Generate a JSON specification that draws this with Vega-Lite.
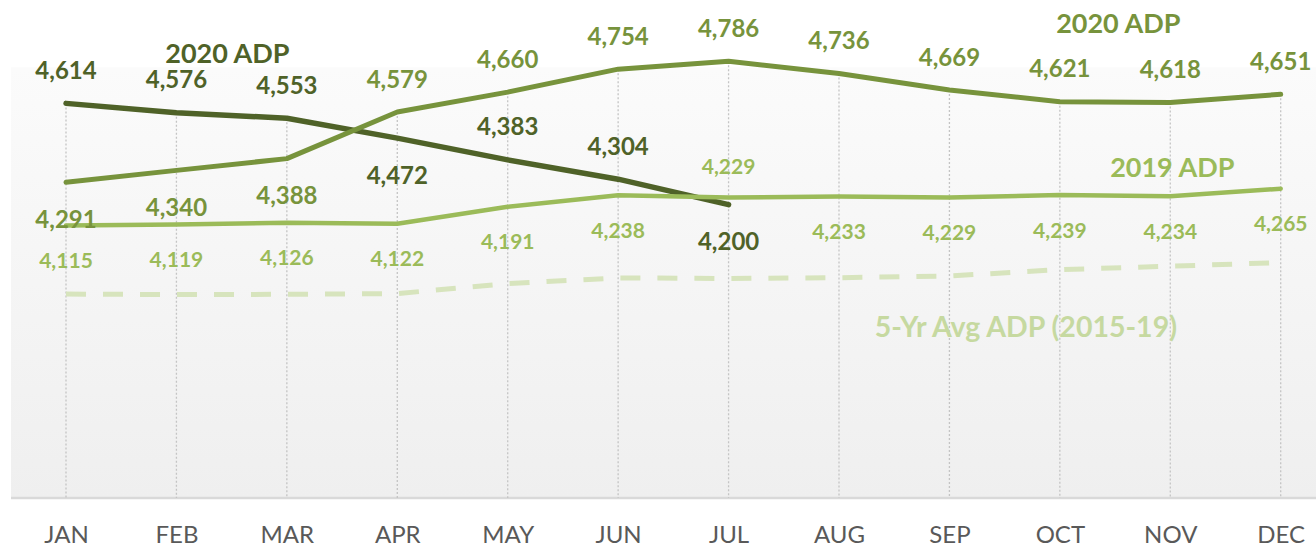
{
  "$schema": "https://vega.github.io/schema/vega-lite/v6.json",
  "width": 1305,
  "height": 489,
  "autosize": {"type": "none"},
  "padding": {"left": 11, "top": 9, "right": 0, "bottom": 50},
  "background": "white",
  "config": {
    "font": "Lato",
    "view": {"stroke": null},
    "axisX": {
      "domain": false,
      "ticks": false,
      "tickSize": 0,
      "grid": false,
      "labelFont": "Lato",
      "labelFontSize": 24,
      "labelColor": "#595959",
      "labelPadding": 44,
      "labelBaseline": "alphabetic",
      "labelAngle": 0
    }
  },
  "data": {
    "values": [
      {"month": "JAN", "series": "2020 ADP", "value": 4614},
      {"month": "FEB", "series": "2020 ADP", "value": 4576},
      {"month": "MAR", "series": "2020 ADP", "value": 4553},
      {"month": "APR", "series": "2020 ADP", "value": 4472},
      {"month": "MAY", "series": "2020 ADP", "value": 4383},
      {"month": "JUN", "series": "2020 ADP", "value": 4304},
      {"month": "JUL", "series": "2020 ADP", "value": 4200},
      {"month": "JAN", "series": "2020 ADP (2)", "value": 4291},
      {"month": "FEB", "series": "2020 ADP (2)", "value": 4340},
      {"month": "MAR", "series": "2020 ADP (2)", "value": 4388},
      {"month": "APR", "series": "2020 ADP (2)", "value": 4579},
      {"month": "MAY", "series": "2020 ADP (2)", "value": 4660},
      {"month": "JUN", "series": "2020 ADP (2)", "value": 4754},
      {"month": "JUL", "series": "2020 ADP (2)", "value": 4786},
      {"month": "AUG", "series": "2020 ADP (2)", "value": 4736},
      {"month": "SEP", "series": "2020 ADP (2)", "value": 4669},
      {"month": "OCT", "series": "2020 ADP (2)", "value": 4621},
      {"month": "NOV", "series": "2020 ADP (2)", "value": 4618},
      {"month": "DEC", "series": "2020 ADP (2)", "value": 4651},
      {"month": "JAN", "series": "2019 ADP", "value": 4115},
      {"month": "FEB", "series": "2019 ADP", "value": 4119},
      {"month": "MAR", "series": "2019 ADP", "value": 4126},
      {"month": "APR", "series": "2019 ADP", "value": 4122},
      {"month": "MAY", "series": "2019 ADP", "value": 4191},
      {"month": "JUN", "series": "2019 ADP", "value": 4238},
      {"month": "JUL", "series": "2019 ADP", "value": 4229},
      {"month": "AUG", "series": "2019 ADP", "value": 4233},
      {"month": "SEP", "series": "2019 ADP", "value": 4229},
      {"month": "OCT", "series": "2019 ADP", "value": 4239},
      {"month": "NOV", "series": "2019 ADP", "value": 4234},
      {"month": "DEC", "series": "2019 ADP", "value": 4265},
      {"month": "JAN", "series": "5-Yr Avg ADP (2015-19)", "value": 3834},
      {"month": "FEB", "series": "5-Yr Avg ADP (2015-19)", "value": 3832},
      {"month": "MAR", "series": "5-Yr Avg ADP (2015-19)", "value": 3833},
      {"month": "APR", "series": "5-Yr Avg ADP (2015-19)", "value": 3836},
      {"month": "MAY", "series": "5-Yr Avg ADP (2015-19)", "value": 3877},
      {"month": "JUN", "series": "5-Yr Avg ADP (2015-19)", "value": 3900},
      {"month": "JUL", "series": "5-Yr Avg ADP (2015-19)", "value": 3898},
      {"month": "AUG", "series": "5-Yr Avg ADP (2015-19)", "value": 3901},
      {"month": "SEP", "series": "5-Yr Avg ADP (2015-19)", "value": 3908},
      {"month": "OCT", "series": "5-Yr Avg ADP (2015-19)", "value": 3934},
      {"month": "NOV", "series": "5-Yr Avg ADP (2015-19)", "value": 3948},
      {"month": "DEC", "series": "5-Yr Avg ADP (2015-19)", "value": 3963}
    ]
  },
  "layer": [
    {
      "data": {"values": [{}]},
      "mark": {
        "type": "rect",
        "color": {
          "gradient": "linear",
          "x1": 0, "y1": 0, "x2": 0, "y2": 1,
          "stops": [
            {"offset": 0, "color": "#ffffff"},
            {"offset": 0.118, "color": "#ffffff"},
            {"offset": 0.12, "color": "#fbfbfb"},
            {"offset": 1, "color": "#efefef"}
          ]
        }
      },
      "encoding": {
        "x": {"value": 0},
        "x2": {"value": "width"},
        "y": {"datum": 5000, "type": "quantitative", "scale": {"domain": [3000, 5000], "nice": false, "zero": false}, "axis": null},
        "y2": {"datum": 3000}
      }
    },
    {
      "data": {"values": [{}]},
      "mark": {"type": "rule", "color": "#d9d9d9", "strokeWidth": 2.3},
      "encoding": {
        "x": {"value": 0},
        "x2": {"value": "width"},
        "y": {"datum": 3000, "type": "quantitative", "scale": {"domain": [3000, 5000], "nice": false, "zero": false}, "axis": null}
      }
    },
    {
      "transform": [{"aggregate": [{"op": "max", "field": "value", "as": "maxv"}], "groupby": ["month"]}],
      "mark": {"type": "rule", "color": "#c4c4c4", "strokeWidth": 1.3, "strokeDash": [2, 2]},
      "encoding": {
        "x": {"field": "month", "type": "ordinal", "title": null, "scale": {"type": "point", "padding": 0, "domain": ["JAN","FEB","MAR","APR","MAY","JUN","JUL","AUG","SEP","OCT","NOV","DEC"], "range": [55, 1269.7]}},
        "y": {"field": "maxv", "type": "quantitative", "scale": {"domain": [3000, 5000], "nice": false, "zero": false}, "axis": null},
        "y2": {"datum": 3000}
      }
    },
    {
      "transform": [{"filter": "datum.series == '5-Yr Avg ADP (2015-19)'"}],
      "mark": {"type": "line", "color": "#d7e4bd", "strokeWidth": 5, "strokeDash": [20, 17]},
      "encoding": {
        "x": {"field": "month", "type": "ordinal", "title": null, "scale": {"type": "point", "padding": 0, "domain": ["JAN","FEB","MAR","APR","MAY","JUN","JUL","AUG","SEP","OCT","NOV","DEC"], "range": [55, 1269.7]}},
        "y": {"field": "value", "type": "quantitative", "scale": {"domain": [3000, 5000], "nice": false, "zero": false}, "axis": null}
      }
    },
    {
      "transform": [{"filter": "datum.series == '2020 ADP'"}],
      "mark": {"type": "line", "color": "#4f6228", "strokeWidth": 5.5, "strokeCap": "round", "strokeJoin": "round"},
      "encoding": {
        "x": {"field": "month", "type": "ordinal", "title": null, "scale": {"type": "point", "padding": 0, "domain": ["JAN","FEB","MAR","APR","MAY","JUN","JUL","AUG","SEP","OCT","NOV","DEC"], "range": [55, 1269.7]}},
        "y": {"field": "value", "type": "quantitative", "scale": {"domain": [3000, 5000], "nice": false, "zero": false}, "axis": null}
      }
    },
    {
      "transform": [{"filter": "datum.series == '2020 ADP (2)'"}],
      "mark": {"type": "line", "color": "#77933c", "strokeWidth": 5, "strokeCap": "round", "strokeJoin": "round"},
      "encoding": {
        "x": {"field": "month", "type": "ordinal", "title": null, "scale": {"type": "point", "padding": 0, "domain": ["JAN","FEB","MAR","APR","MAY","JUN","JUL","AUG","SEP","OCT","NOV","DEC"], "range": [55, 1269.7]}},
        "y": {"field": "value", "type": "quantitative", "scale": {"domain": [3000, 5000], "nice": false, "zero": false}, "axis": null}
      }
    },
    {
      "transform": [{"filter": "datum.series == '2019 ADP'"}],
      "mark": {"type": "line", "color": "#9bbb59", "strokeWidth": 4.5, "strokeCap": "round", "strokeJoin": "round"},
      "encoding": {
        "x": {"field": "month", "type": "ordinal", "title": null, "scale": {"type": "point", "padding": 0, "domain": ["JAN","FEB","MAR","APR","MAY","JUN","JUL","AUG","SEP","OCT","NOV","DEC"], "range": [55, 1269.7]}},
        "y": {"field": "value", "type": "quantitative", "scale": {"domain": [3000, 5000], "nice": false, "zero": false}, "axis": null}
      }
    },
    {
      "transform": [{"filter": "datum.series == '2020 ADP' && datum.month != 'APR' && datum.month != 'JUL'"}],
      "mark": {"type": "text", "color": "#4f6228", "fontSize": 24, "fontWeight": "bold", "baseline": "alphabetic", "dy": -24.4},
      "encoding": {
        "x": {"field": "month", "type": "ordinal", "title": null, "scale": {"type": "point", "padding": 0, "domain": ["JAN","FEB","MAR","APR","MAY","JUN","JUL","AUG","SEP","OCT","NOV","DEC"], "range": [55, 1269.7]}},
        "y": {"field": "value", "type": "quantitative", "scale": {"domain": [3000, 5000], "nice": false, "zero": false}, "axis": null},
        "text": {"field": "value", "type": "quantitative", "format": ","}
      }
    },
    {
      "transform": [{"filter": "datum.series == '2020 ADP' && (datum.month == 'APR' || datum.month == 'JUL')"}],
      "mark": {"type": "text", "color": "#4f6228", "fontSize": 24, "fontWeight": "bold", "baseline": "alphabetic", "dy": 45.6},
      "encoding": {
        "x": {"field": "month", "type": "ordinal", "title": null, "scale": {"type": "point", "padding": 0, "domain": ["JAN","FEB","MAR","APR","MAY","JUN","JUL","AUG","SEP","OCT","NOV","DEC"], "range": [55, 1269.7]}},
        "y": {"field": "value", "type": "quantitative", "scale": {"domain": [3000, 5000], "nice": false, "zero": false}, "axis": null},
        "text": {"field": "value", "type": "quantitative", "format": ","}
      }
    },
    {
      "transform": [{"filter": "datum.series == '2020 ADP (2)' && datum.month != 'JAN' && datum.month != 'FEB' && datum.month != 'MAR'"}],
      "mark": {"type": "text", "color": "#77933c", "fontSize": 24, "fontWeight": "bold", "baseline": "alphabetic", "dy": -24.4},
      "encoding": {
        "x": {"field": "month", "type": "ordinal", "title": null, "scale": {"type": "point", "padding": 0, "domain": ["JAN","FEB","MAR","APR","MAY","JUN","JUL","AUG","SEP","OCT","NOV","DEC"], "range": [55, 1269.7]}},
        "y": {"field": "value", "type": "quantitative", "scale": {"domain": [3000, 5000], "nice": false, "zero": false}, "axis": null},
        "text": {"field": "value", "type": "quantitative", "format": ","}
      }
    },
    {
      "transform": [{"filter": "datum.series == '2020 ADP (2)' && (datum.month == 'JAN' || datum.month == 'FEB' || datum.month == 'MAR')"}],
      "mark": {"type": "text", "color": "#77933c", "fontSize": 24, "fontWeight": "bold", "baseline": "alphabetic", "dy": 45.6},
      "encoding": {
        "x": {"field": "month", "type": "ordinal", "title": null, "scale": {"type": "point", "padding": 0, "domain": ["JAN","FEB","MAR","APR","MAY","JUN","JUL","AUG","SEP","OCT","NOV","DEC"], "range": [55, 1269.7]}},
        "y": {"field": "value", "type": "quantitative", "scale": {"domain": [3000, 5000], "nice": false, "zero": false}, "axis": null},
        "text": {"field": "value", "type": "quantitative", "format": ","}
      }
    },
    {
      "transform": [{"filter": "datum.series == '2019 ADP' && datum.month != 'JUL'"}],
      "mark": {"type": "text", "color": "#9bbb59", "fontSize": 21, "fontWeight": "bold", "baseline": "alphabetic", "dy": 42.5},
      "encoding": {
        "x": {"field": "month", "type": "ordinal", "title": null, "scale": {"type": "point", "padding": 0, "domain": ["JAN","FEB","MAR","APR","MAY","JUN","JUL","AUG","SEP","OCT","NOV","DEC"], "range": [55, 1269.7]}},
        "y": {"field": "value", "type": "quantitative", "scale": {"domain": [3000, 5000], "nice": false, "zero": false}, "axis": null},
        "text": {"field": "value", "type": "quantitative", "format": ","}
      }
    },
    {
      "transform": [{"filter": "datum.series == '2019 ADP' && datum.month == 'JUL'"}],
      "mark": {"type": "text", "color": "#9bbb59", "fontSize": 21, "fontWeight": "bold", "baseline": "alphabetic", "dy": -23.5},
      "encoding": {
        "x": {"field": "month", "type": "ordinal", "title": null, "scale": {"type": "point", "padding": 0, "domain": ["JAN","FEB","MAR","APR","MAY","JUN","JUL","AUG","SEP","OCT","NOV","DEC"], "range": [55, 1269.7]}},
        "y": {"field": "value", "type": "quantitative", "scale": {"domain": [3000, 5000], "nice": false, "zero": false}, "axis": null},
        "text": {"field": "value", "type": "quantitative", "format": ","}
      }
    },
    {
      "transform": [{"filter": "datum.series == '2020 ADP' && datum.month == 'FEB'"}],
      "mark": {"type": "text", "text": "2020 ADP", "color": "#4f6228", "fontSize": 27, "fontWeight": "bold", "baseline": "alphabetic", "dx": 51, "dy": -50},
      "encoding": {
        "x": {"field": "month", "type": "ordinal", "title": null, "scale": {"type": "point", "padding": 0, "domain": ["JAN","FEB","MAR","APR","MAY","JUN","JUL","AUG","SEP","OCT","NOV","DEC"], "range": [55, 1269.7]}},
        "y": {"field": "value", "type": "quantitative", "scale": {"domain": [3000, 5000], "nice": false, "zero": false}, "axis": null}
      }
    },
    {
      "transform": [{"filter": "datum.series == '2020 ADP (2)' && datum.month == 'NOV'"}],
      "mark": {"type": "text", "text": "2020 ADP", "color": "#77933c", "fontSize": 27, "fontWeight": "bold", "baseline": "alphabetic", "dx": -52, "dy": -69},
      "encoding": {
        "x": {"field": "month", "type": "ordinal", "title": null, "scale": {"type": "point", "padding": 0, "domain": ["JAN","FEB","MAR","APR","MAY","JUN","JUL","AUG","SEP","OCT","NOV","DEC"], "range": [55, 1269.7]}},
        "y": {"field": "value", "type": "quantitative", "scale": {"domain": [3000, 5000], "nice": false, "zero": false}, "axis": null}
      }
    },
    {
      "transform": [{"filter": "datum.series == '2019 ADP' && datum.month == 'NOV'"}],
      "mark": {"type": "text", "text": "2019 ADP", "color": "#9bbb59", "fontSize": 27, "fontWeight": "bold", "baseline": "alphabetic", "dx": 2, "dy": -19.6},
      "encoding": {
        "x": {"field": "month", "type": "ordinal", "title": null, "scale": {"type": "point", "padding": 0, "domain": ["JAN","FEB","MAR","APR","MAY","JUN","JUL","AUG","SEP","OCT","NOV","DEC"], "range": [55, 1269.7]}},
        "y": {"field": "value", "type": "quantitative", "scale": {"domain": [3000, 5000], "nice": false, "zero": false}, "axis": null}
      }
    },
    {
      "transform": [{"filter": "datum.series == '5-Yr Avg ADP (2015-19)' && datum.month == 'OCT'"}],
      "mark": {"type": "text", "text": "5-Yr Avg ADP (2015-19)", "color": "#c6d9a0", "fontSize": 28.5, "fontWeight": "bold", "baseline": "alphabetic", "dx": -34, "dy": 67},
      "encoding": {
        "x": {"field": "month", "type": "ordinal", "title": null, "scale": {"type": "point", "padding": 0, "domain": ["JAN","FEB","MAR","APR","MAY","JUN","JUL","AUG","SEP","OCT","NOV","DEC"], "range": [55, 1269.7]}},
        "y": {"field": "value", "type": "quantitative", "scale": {"domain": [3000, 5000], "nice": false, "zero": false}, "axis": null}
      }
    }
  ]
}
